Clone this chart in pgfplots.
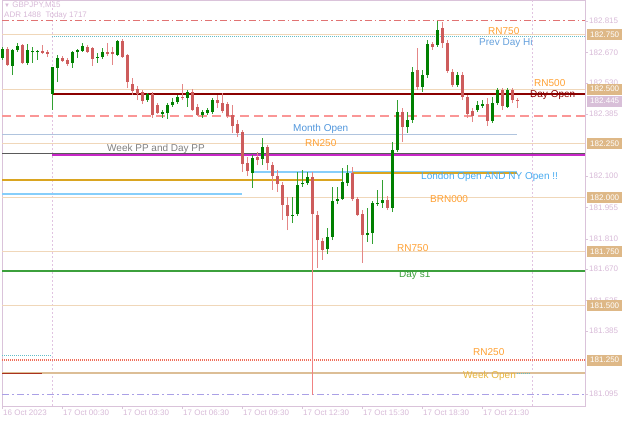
\documentclass[border=0pt]{standalone}
\usepackage{fontspec}
\setmainfont{Liberation Sans}
\usepackage{pgfplots}
\usepackage{pgfplotstable}
\pgfplotsset{compat=1.18}

\definecolor{bullbody}{RGB}{0,128,0}
\definecolor{bullwick}{RGB}{50,160,50}
\definecolor{bearbody}{RGB}{205,92,92}
\definecolor{bearwick}{RGB}{228,135,135}
\definecolor{rnline}{RGB}{240,215,185}
\definecolor{rntext}{RGB}{255,160,50}
\definecolor{frame}{RGB}{218,195,218}
\definecolor{ticktext}{RGB}{215,185,215}
\definecolor{boxtan}{RGB}{222,184,135}
\definecolor{boxlav}{RGB}{216,191,216}
\definecolor{dayopen}{RGB}{139,0,0}
\definecolor{pinkdash}{RGB}{250,150,150}
\definecolor{monthopen}{RGB}{176,196,222}
\definecolor{monthtext}{RGB}{80,150,220}
\definecolor{weekpp}{RGB}{90,90,90}
\definecolor{daypp}{RGB}{200,40,200}
\definecolor{lonblue}{RGB}{135,206,250}
\definecolor{goldline}{RGB}{218,165,32}
\definecolor{lontext}{RGB}{70,170,240}
\definecolor{days1}{RGB}{60,160,60}
\definecolor{reddot}{RGB}{240,110,90}
\definecolor{tealdot}{RGB}{100,190,200}
\definecolor{weekopen}{RGB}{220,190,150}
\definecolor{weektext}{RGB}{230,180,60}
\definecolor{lavdash}{RGB}{170,160,230}
\definecolor{prevhi}{RGB}{100,160,220}
\definecolor{sep}{RGB}{225,195,225}
\definecolor{topdash}{RGB}{225,115,115}
\definecolor{lowline}{RGB}{240,130,130}
\definecolor{shortred}{RGB}{170,50,30}

% GBPJPY M15 candles, x = bar index (0 = 17 Oct 00:00)
\pgfplotstableread{
x o h l c
-10 182.644 182.695 182.635 182.685
-8 182.607 182.685 182.565 182.681
-7 182.681 182.713 182.672 182.699
-5 182.621 182.708 182.612 182.681
-4 182.672 182.695 182.621 182.676
-3 182.672 182.681 182.635 182.676
0 182.478 182.602 182.404 182.602
1 182.598 182.658 182.533 182.644
4 182.621 182.676 182.598 182.672
5 182.672 182.685 182.644 182.681
6 182.676 182.713 182.672 182.699
9 182.644 182.667 182.621 182.648
10 182.648 182.690 182.639 182.672
13 182.658 182.727 182.653 182.722
19 182.450 182.482 182.441 182.478
22 182.385 182.404 182.367 182.395
23 182.390 182.436 182.362 182.427
24 182.427 182.459 182.418 182.441
25 182.441 182.473 182.432 182.464
27 182.459 182.496 182.418 182.487
30 182.381 182.404 182.367 182.395
31 182.390 182.413 182.381 182.404
32 182.395 182.459 182.385 182.450
40 182.113 182.196 182.044 182.182
42 182.178 182.275 182.150 182.233
48 181.915 182.002 181.882 181.919
49 181.924 182.118 181.915 182.058
50 182.062 182.127 182.049 182.067
51 182.067 182.118 182.058 182.095
55 181.762 181.859 181.739 181.818
56 181.818 182.049 181.804 181.984
57 181.984 182.049 181.970 181.993
58 181.993 182.136 181.989 182.072
59 182.067 182.150 182.053 182.113
63 181.827 181.952 181.795 181.836
64 181.836 181.984 181.786 181.975
65 181.970 182.035 181.961 181.975
66 181.975 182.081 181.952 181.989
68 181.952 182.256 181.933 182.219
69 182.219 182.450 182.210 182.395
71 182.325 182.395 182.298 182.358
72 182.358 182.602 182.344 182.579
74 182.510 182.588 182.487 182.565
75 182.565 182.727 182.552 182.708
77 182.704 182.815 182.695 182.773
81 182.519 182.579 182.510 182.565
85 182.404 182.445 182.395 182.427
86 182.422 182.450 182.413 182.432
88 182.353 182.464 182.344 182.436
89 182.436 182.505 182.427 182.496
91 182.418 182.505 182.413 182.496
}\bull

\pgfplotstableread{
x o h l c
-9 182.685 182.695 182.607 182.612
-6 182.704 182.708 182.616 182.621
-2 182.676 182.704 182.662 182.667
-1 182.672 182.681 182.648 182.662
2 182.644 182.653 182.625 182.630
3 182.635 182.644 182.607 182.616
7 182.695 182.704 182.667 182.672
8 182.690 182.695 182.607 182.639
11 182.672 182.713 182.653 182.662
12 182.672 182.695 182.612 182.662
14 182.722 182.732 182.644 182.648
15 182.658 182.662 182.505 182.533
16 182.524 182.552 182.473 182.492
17 182.501 182.515 182.450 182.478
18 182.487 182.496 182.432 182.445
20 182.478 182.487 182.367 182.381
21 182.427 182.436 182.385 182.390
26 182.464 182.524 182.450 182.459
28 182.487 182.501 182.399 182.404
29 182.418 182.432 182.376 182.381
33 182.450 182.473 182.413 182.436
34 182.436 182.482 182.390 182.399
35 182.432 182.441 182.367 182.376
36 182.381 182.427 182.298 182.330
37 182.339 182.358 182.279 182.298
38 182.302 182.312 182.118 182.155
39 182.159 182.187 182.099 182.122
41 182.187 182.210 182.150 182.173
43 182.233 182.242 182.127 182.159
44 182.150 182.164 182.035 182.099
45 182.099 182.127 182.025 182.062
46 182.058 182.072 181.896 181.965
47 181.965 182.002 181.850 181.915
52 182.095 182.118 181.896 181.924
53 181.919 181.938 181.675 181.804
54 181.799 181.813 181.712 181.758
60 182.113 182.141 181.984 181.993
61 181.993 182.002 181.915 181.919
62 181.924 181.942 181.698 181.827
67 181.989 182.007 181.942 181.952
70 182.395 182.413 182.256 182.325
73 182.588 182.690 182.496 182.510
76 182.708 182.718 182.681 182.695
78 182.782 182.810 182.690 182.713
79 182.713 182.727 182.575 182.584
80 182.579 182.593 182.510 182.519
82 182.565 182.579 182.450 182.464
83 182.464 182.473 182.367 182.385
84 182.399 182.413 182.349 182.376
87 182.432 182.459 182.330 182.353
90 182.496 182.505 182.404 182.422
92 182.496 182.505 182.436 182.450
93 182.450 182.459 182.413 182.445
}\bear

\newcommand{\lbl}{\fontsize{10}{12}\selectfont}
\newcommand{\tck}{\fontsize{8}{9}\selectfont}

\begin{document}
\begin{tikzpicture}
\begin{axis}[
  at={(0,0)}, anchor=south west,
  scale only axis, width=583pt, height=406pt,
  xmin=-10, xmax=106.6, ymin=181.038, ymax=182.9115,
  clip=false, set layers,
  axis line style={draw=frame},
  tick style={draw=frame}, tick align=outside, major tick length=3pt,
  xtick pos=bottom, ytick pos=right, yticklabel pos=right,
  xtick={-10,2,14,26,38,50,62,74,86},
  xticklabels={16 Oct 2023,17 Oct 00:30,17 Oct 03:30,17 Oct 06:30,17 Oct 09:30,17 Oct 12:30,17 Oct 15:30,17 Oct 18:30,17 Oct 21:30},
  xticklabel style={anchor=north west, inner sep=1pt, font=\tck, text=ticktext},
  ytick={182.815,182.670,182.530,182.385,182.100,181.955,181.810,181.670,181.525,181.385,181.095},
  yticklabels={182.815,182.670,182.530,182.385,182.100,181.955,181.810,181.670,181.525,181.385,181.095},
  yticklabel style={anchor=west, inner sep=1pt, font=\tck, text=ticktext},
]
% session separators
\addplot[sep, dash pattern=on 2pt off 2pt, line width=0.8pt] coordinates {(0,181.038) (0,182.9115)};
\addplot[sep, dash pattern=on 2pt off 2pt, line width=0.8pt] coordinates {(96,181.038) (96,182.9115)};
% round number levels
\addplot[rnline, line width=1pt] coordinates {(-10,182.750) (106.6,182.750)};
\addplot[rnline, line width=1pt] coordinates {(-10,182.500) (106.6,182.500)};
\addplot[rnline, line width=1pt] coordinates {(-10,182.250) (106.6,182.250)};
\addplot[rnline, line width=1pt] coordinates {(-10,182.000) (106.6,182.000)};
\addplot[rnline, line width=1pt] coordinates {(-10,181.750) (106.6,181.750)};
\addplot[rnline, line width=1pt] coordinates {(-10,181.500) (106.6,181.500)};
% other levels
\addplot[topdash, line width=1pt, dash pattern=on 7pt off 3pt on 1.5pt off 3pt] coordinates {(-10,182.815) (106.6,182.815)};
\addplot[tealdot, line width=1pt, dash pattern=on 1pt off 1pt] coordinates {(0,182.741) (106.6,182.741)};
\addplot[pinkdash, line width=1.5pt, dash pattern=on 9pt off 5pt] coordinates {(-10,182.376) (106.6,182.376)};
\addplot[monthopen, line width=1pt] coordinates {(-10,182.289) (93,182.289)};
\addplot[weekpp, line width=1.2pt] coordinates {(-10,182.204) (106.6,182.204)};
\addplot[daypp, line width=2pt] coordinates {(0,182.198) (106.6,182.198)};
\addplot[goldline, line width=2pt] coordinates {(-10,182.081) (58,182.081)};
\addplot[lonblue, line width=2pt] coordinates {(40,182.118) (93,182.118)};
\addplot[goldline, line width=2pt] coordinates {(60,182.113) (93,182.113)};
\addplot[lonblue, line width=2pt] coordinates {(-10,182.016) (38,182.016)};
\addplot[days1, line width=1.5pt] coordinates {(-10,181.661) (106.6,181.661)};
\addplot[tealdot, line width=1pt, dash pattern=on 1pt off 1pt] coordinates {(-10,181.273) (0,181.273)};
\addplot[reddot, line width=1.5pt, dash pattern=on 1pt off 1pt] coordinates {(-10,181.250) (106.6,181.250)};
\addplot[weekopen, line width=2pt] coordinates {(-10,181.190) (106.6,181.190)};
\addplot[shortred, line width=1.5pt] coordinates {(-10,181.188) (-2,181.188)};
\addplot[tealdot, line width=1pt, dash pattern=on 1pt off 1pt] coordinates {(93,181.190) (95.6,181.190)};
\addplot[lavdash, line width=1pt, dash pattern=on 7pt off 3pt on 2pt off 3pt] coordinates {(-10,181.089) (106.6,181.089)};
\addplot[lowline, line width=1pt] coordinates {(52,181.089) (52,182.118)};
\addplot[dayopen, line width=2pt] coordinates {(0,182.478) (106.6,182.478)};

% candles: wicks then bodies
\addplot[draw=none, mark=none, forget plot,
  error bars/.cd, y dir=plus, y explicit, error mark=none,
  error bar style={draw=bullwick, line width=1pt}]
  table[x=x, y=l, y error plus expr=\thisrow{h}-\thisrow{l}] {\bull};
\addplot[draw=none, mark=none, forget plot,
  error bars/.cd, y dir=plus, y explicit, error mark=none,
  error bar style={draw=bearwick, line width=1pt}]
  table[x=x, y=l, y error plus expr=\thisrow{h}-\thisrow{l}] {\bear};
\addplot[draw=none, mark=none, forget plot,
  error bars/.cd, y dir=plus, y explicit, error mark=none,
  error bar style={draw=bullbody, line width=3pt}]
  table[x=x, y=o, y error plus expr={max(\thisrow{c}-\thisrow{o},0.005)}] {\bull};
\addplot[draw=none, mark=none, forget plot,
  error bars/.cd, y dir=plus, y explicit, error mark=none,
  error bar style={draw=bearbody, line width=3pt}]
  table[x=x, y=c, y error plus expr={max(\thisrow{o}-\thisrow{c},0.005)}] {\bear};

% level labels
\node[anchor=west, inner sep=0pt, text=rntext, font=\lbl] at (axis cs:87.2,182.768) {RN750};
\node[anchor=west, inner sep=0pt, text=prevhi, font=\lbl] at (axis cs:85.4,182.713) {Prev Day Hi};
\node[anchor=west, inner sep=0pt, text=rntext, font=\lbl] at (axis cs:96.4,182.530) {RN500};
\node[anchor=west, inner sep=0pt, text=dayopen, font=\lbl] at (axis cs:95.6,182.471) {Day Open};
\node[anchor=west, inner sep=0pt, text=monthtext, font=\lbl] at (axis cs:48.2,182.316) {Month Open};
\node[anchor=west, inner sep=0pt, text=rntext, font=\lbl] at (axis cs:50.6,182.252) {RN250};
\node[anchor=west, inner sep=0pt, text=gray, font=\lbl] at (axis cs:11,182.226) {Week PP and Day PP};
\node[anchor=west, inner sep=0pt, text=lontext, font=\lbl] at (axis cs:73.8,182.095) {London Open AND NY Open !!};
\node[anchor=west, inner sep=0pt, text=rntext, font=\lbl] at (axis cs:75.6,181.993) {BRN000};
\node[anchor=west, inner sep=0pt, text=rntext, font=\lbl] at (axis cs:69,181.767) {RN750};
\node[anchor=west, inner sep=0pt, text=days1, font=\lbl] at (axis cs:69.4,181.642) {Day s1};
\node[anchor=west, inner sep=0pt, text=rntext, font=\lbl] at (axis cs:84.2,181.287) {RN250};
\node[anchor=west, inner sep=0pt, text=weektext, font=\lbl] at (axis cs:82.2,181.176) {Week Open};

% header
\node[anchor=north west, inner sep=0pt, text=ticktext, font=\tck, xshift=2pt, yshift=-2pt] at (axis cs:-10,182.9115) {{\fontsize{6}{7}\selectfont ▼} GBPJPY,M15};
\node[anchor=north west, inner sep=0pt, text=ticktext, font=\tck, xshift=2pt, yshift=-12pt] at (axis cs:-10,182.9115) {ADR 1488\ \ Today 1717};

% price boxes on the scale
\pgfplotsinvokeforeach{182.750,182.500,182.250,182.000,181.750,181.500,181.250}{
  \node[anchor=west, fill=boxtan, text=white, font=\tck, inner sep=0pt, minimum width=35pt, minimum height=11pt, xshift=2pt] at (axis cs:106.6,#1) {#1};
}
\node[anchor=west, fill=boxlav, text=white, font=\tck, inner sep=0pt, minimum width=35pt, minimum height=11pt, xshift=2pt] at (axis cs:106.6,182.445) {182.445};
\end{axis}
\pgfresetboundingbox
\path (-2pt,-15pt) rectangle (623pt,406pt);
\end{tikzpicture}
\end{document}
